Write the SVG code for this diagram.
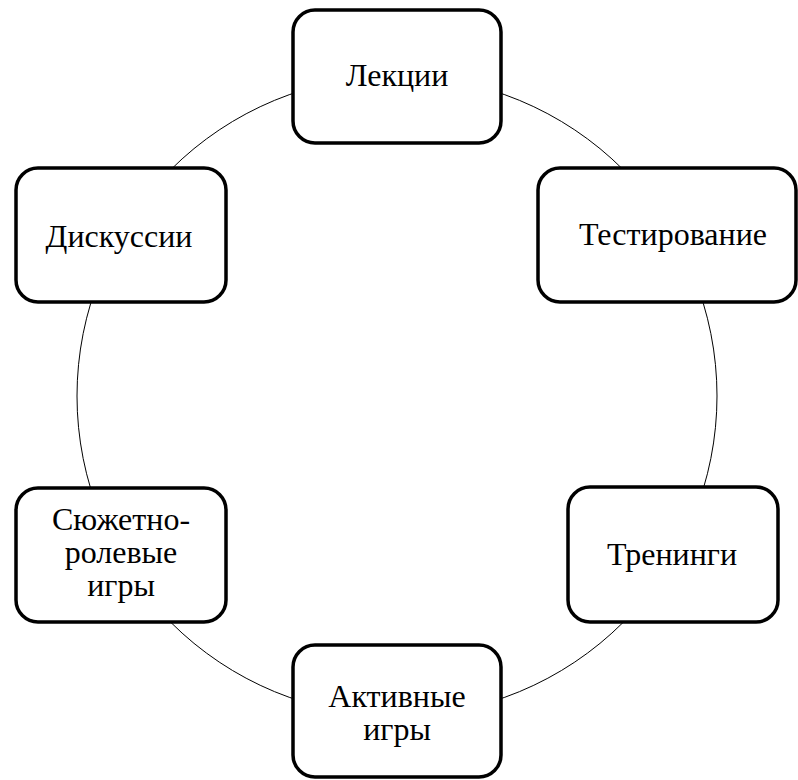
<svg xmlns="http://www.w3.org/2000/svg" width="798" height="780" viewBox="0 0 798 780">
<style>
.box{fill:#fff;stroke:#000;stroke-width:3.5}
.t{font-family:'Liberation Serif','Times New Roman',serif;font-size:32px;fill:#000;text-anchor:middle}
.ring{fill:none;stroke:#000;stroke-width:1}
</style>
<rect width="798" height="780" fill="#fff"/>
<g id="connectors">
<circle class="ring" cx="397" cy="396" r="320"/>
</g>
<g id="lectures">
<rect class="box" x="293" y="10" width="208" height="133" rx="22"/>
<text class="t" x="397" y="86">Лекции</text>
</g>
<g id="testing">
<rect class="box" x="538" y="168" width="258" height="134" rx="22"/>
<text class="t" x="673" y="245">Тестирование</text>
</g>
<g id="discussions">
<rect class="box" x="16" y="168" width="210" height="134" rx="22"/>
<text class="t" x="119" y="247">Дискуссии</text>
</g>
<g id="trainings">
<rect class="box" x="568" y="487" width="210" height="135" rx="22"/>
<text class="t" x="672" y="565">Тренинги</text>
</g>
<g id="roleplay">
<rect class="box" x="16" y="488" width="210" height="134" rx="22"/>
<text class="t" x="121" y="530">Сюжетно-</text>
<text class="t" x="121" y="563">ролевые</text>
<text class="t" x="121" y="596">игры</text>
</g>
<g id="active">
<rect class="box" x="293" y="645" width="208" height="132" rx="22"/>
<text class="t" x="397" y="707">Активные</text>
<text class="t" x="397" y="740">игры</text>
</g>
</svg>
